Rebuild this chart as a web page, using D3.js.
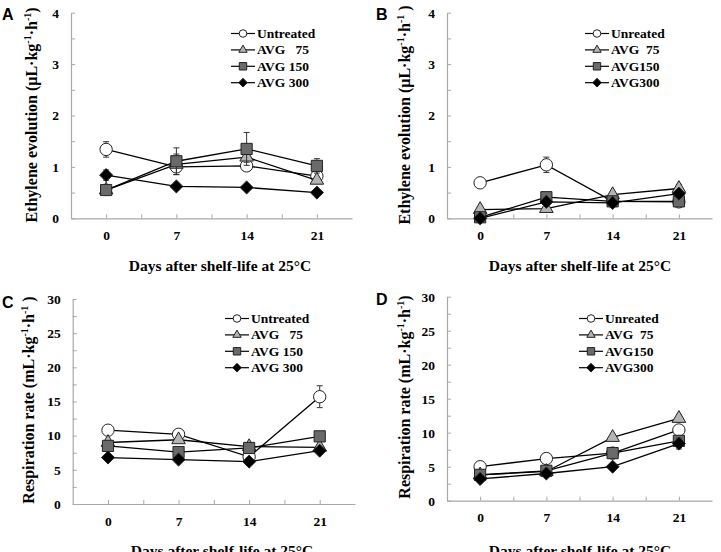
<!DOCTYPE html>
<html>
<head>
<meta charset="utf-8">
<script src="https://cdn.jsdelivr.net/npm/d3@7"></script>
<style>
  body { margin: 0; background: #fff; }
  text { font-family: "Liberation Serif", "Times New Roman", serif; font-weight: bold; fill: #000; }
  .letter { font-family: "Liberation Sans", Arial, sans-serif; font-size: 16px; }
</style>
</head>
<body>
<div id="chart"></div>
<script>
// Data
var days = [0, 7, 14, 21];
var legendAC = ["Untreated", "AVG   75", "AVG 150", "AVG 300"];
var legendBD = ["Unreated", "AVG  75", "AVG150", "AVG300"];

// Panel A - ethylene (uL/kg/h)
var ethyleneA = [
  [1.34, 1.00, 1.02, 0.82],
  [0.55, 1.05, 1.19, 0.74],
  [0.55, 1.11, 1.35, 1.02],
  [0.84, 0.62, 0.60, 0.50]
];
var ethyleneAErr = [
  [0.15, 0, 0, 0.05],
  [0, 0.2, 0.1, 0],
  [0, 0.26, 0.32, 0.14],
  [0.1, 0, 0, 0]
];

// Panel B - ethylene (uL/kg/h)
var ethyleneB = [
  [0.69, 1.04, 0.33, 0.32],
  [0.17, 0.19, 0.46, 0.58],
  [0.02, 0.41, 0.33, 0.33],
  [0.00, 0.32, 0.30, 0.48]
];
var ethyleneBErr = [
  [0, 0.15, 0, 0],
  [0, 0, 0, 0.08],
  [0, 0, 0, 0],
  [0, 0, 0, 0]
];

// Panel C - respiration (mL/kg/h)
var respirationC = [
  [10.8, 10.2, 6.9, 15.7],
  [9.0, 9.4, 8.4, 8.3],
  [8.5, 7.6, 8.2, 9.9],
  [6.8, 6.5, 6.2, 7.8]
];
var respirationCErr = [
  [0, 0, 0, 1.6],
  [0, 0, 0.3, 0.4],
  [0, 0, 0, 0],
  [0, 0, 0, 0]
];

// Panel D - respiration (mL/kg/h)
var respirationD = [
  [5.0, 6.2, 7.0, 10.4],
  [3.8, 4.3, 9.3, 12.1],
  [3.8, 4.4, 7.0, 8.8],
  [3.2, 4.0, 5.0, 8.4]
];
var respirationDErr = [
  [0, 0, 0, 0],
  [0, 0, 0, 0.5],
  [0, 0, 0, 0],
  [0, 0, 0, 0.8]
];

var width = 721;
var height = 552;

var svg = d3.select("#chart")
  .append("svg")
  .attr("width", width)
  .attr("height", height);

// square rotated 45 degrees
var diamondType = {
  draw: function(context, size) {
    var r = Math.sqrt(size / 2);
    context.moveTo(0, -r);
    context.lineTo(r, 0);
    context.lineTo(0, r);
    context.lineTo(-r, 0);
    context.closePath();
  }
};

var markerTypes = [d3.symbolCircle, d3.symbolTriangle, d3.symbolSquare, diamondType];
var markerFills = ["#ffffff", "#b4b4b4", "#6a6a6a", "#000000"];
var markerSizes = [120, 80, 125, 85];
var legendSizes = [45, 30, 55, 38];

function drawPanel(p) {
  var g = svg.append("g");

  var x = d3.scaleLinear().domain([-3.5, 24.5]).range(p.xRange);
  var y = d3.scaleLinear().domain([0, p.yMax]).range(p.yRange);

  // axes, ticks pointing inwards
  var xAxis = d3.axisBottom(x)
    .tickValues([0, 3.5, 7, 10.5, 14, 17.5, 21])
    .tickFormat(function(d) { return d % 7 === 0 ? d : ""; })
    .tickSizeInner(-4)
    .tickSizeOuter(0)
    .tickPadding(12);

  var yAxis = d3.axisLeft(y)
    .tickValues(d3.range(0, p.yMax + p.yMinor / 2, p.yMinor))
    .tickFormat(function(d) { return Math.abs(d / p.yMajor - Math.round(d / p.yMajor)) < 1e-6 ? d : ""; })
    .tickSizeInner(-4)
    .tickSizeOuter(0)
    .tickPadding(12);

  var gx = g.append("g")
    .attr("transform", "translate(0," + p.yRange[0] + ")")
    .call(xAxis);
  var gy = g.append("g")
    .attr("transform", "translate(" + p.xRange[0] + ",0)")
    .call(yAxis);

  [gx, gy].forEach(function(a) {
    a.select(".domain").attr("stroke", "#a8a8a8").attr("stroke-width", 1.2);
    a.selectAll(".tick line").attr("stroke", "#a8a8a8");
    a.selectAll(".tick text")
      .attr("font-family", "Liberation Serif, Times New Roman, serif")
      .attr("font-weight", "bold")
      .attr("font-size", 13.5)
      .attr("fill", "#000");
  });

  // x axis title
  g.append("text")
    .attr("x", p.xTitle[0])
    .attr("y", p.xTitle[1])
    .attr("text-anchor", "middle")
    .attr("font-size", 15.5)
    .text("Days after shelf-life at 25°C");

  // y axis title with superscripts
  var yt = g.append("text")
    .attr("transform", "translate(" + p.yTitle[0] + "," + p.yTitle[1] + ")rotate(-90)")
    .attr("text-anchor", "middle")
    .attr("font-size", 16);
  yt.append("tspan").text(p.yLabel + " (" + p.unit + "·kg");
  yt.append("tspan").attr("font-size", 10).attr("dy", -6).text("-1");
  yt.append("tspan").attr("dy", 6).text("·h");
  yt.append("tspan").attr("font-size", 10).attr("dy", -6).text("-1");
  yt.append("tspan").attr("dy", 6).style("white-space", "pre").text(p.closeSpace ? " )" : ")");

  // panel letter
  g.append("text")
    .attr("class", "letter")
    .attr("x", p.letterPos[0])
    .attr("y", p.letterPos[1])
    .text(p.letter);

  var line = d3.line()
    .x(function(d, i) { return x(days[i]); })
    .y(function(d) { return y(d); });

  p.values.forEach(function(series, s) {
    var sg = g.append("g");

    // error bars
    series.forEach(function(v, i) {
      var e = p.errors[s][i];
      if (e > 0) {
        var cx = x(days[i]);
        sg.append("line")
          .attr("x1", cx).attr("x2", cx)
          .attr("y1", y(v - e)).attr("y2", y(v + e))
          .attr("stroke", "#333").attr("stroke-width", 1);
        [v - e, v + e].forEach(function(w) {
          sg.append("line")
            .attr("x1", cx - 3).attr("x2", cx + 3)
            .attr("y1", y(w)).attr("y2", y(w))
            .attr("stroke", "#333").attr("stroke-width", 1);
        });
      }
    });

    sg.append("path")
      .datum(series)
      .attr("d", line)
      .attr("fill", "none")
      .attr("stroke", "#000")
      .attr("stroke-width", 1.3);

    sg.selectAll("path.marker")
      .data(series)
      .enter()
      .append("path")
      .attr("class", "marker")
      .attr("transform", function(d, i) { return "translate(" + x(days[i]) + "," + y(d) + ")"; })
      .attr("d", d3.symbol().type(markerTypes[s]).size(markerSizes[s]))
      .attr("fill", markerFills[s])
      .attr("stroke", "#222")
      .attr("stroke-width", 1);
  });

  // legend
  p.legend.forEach(function(name, s) {
    var ly = p.legendPos[1] + s * 16.4;
    var lx = p.legendPos[0];
    g.append("line")
      .attr("x1", lx).attr("x2", lx + 24)
      .attr("y1", ly).attr("y2", ly)
      .attr("stroke", "#000").attr("stroke-width", 1.2);
    g.append("path")
      .attr("transform", "translate(" + (lx + 12) + "," + ly + ")")
      .attr("d", d3.symbol().type(markerTypes[s]).size(legendSizes[s]))
      .attr("fill", markerFills[s])
      .attr("stroke", "#222")
      .attr("stroke-width", 1);
    g.append("text")
      .attr("x", lx + 26)
      .attr("y", ly + 4.5)
      .attr("font-size", 13.5)
      .style("white-space", "pre")
      .text(name);
  });
}

drawPanel({
  letter: "A", letterPos: [2, 20],
  xRange: [71, 352], yRange: [218.3, 12.7], yMax: 4, yMajor: 1, yMinor: 0.5,
  values: ethyleneA, errors: ethyleneAErr, legend: legendAC, legendPos: [231, 33.5],
  xTitle: [220, 271], yTitle: [37, 115], yLabel: "Ethylene evolution", unit: "μL", closeSpace: false
});

drawPanel({
  letter: "B", letterPos: [376, 20],
  xRange: [447, 712], yRange: [218.3, 12.7], yMax: 4, yMajor: 1, yMinor: 0.5,
  values: ethyleneB, errors: ethyleneBErr, legend: legendBD, legendPos: [585, 33.5],
  xTitle: [580, 271], yTitle: [410, 115], yLabel: "Ethylene evolution", unit: "μL", closeSpace: true
});

drawPanel({
  letter: "C", letterPos: [2, 308],
  xRange: [72.7, 355], yRange: [504, 299], yMax: 30, yMajor: 5, yMinor: 2.5,
  values: respirationC, errors: respirationCErr, legend: legendAC, legendPos: [225, 318.5],
  xTitle: [222, 556], yTitle: [34, 400], yLabel: "Respiration rate", unit: "mL", closeSpace: true
});

drawPanel({
  letter: "D", letterPos: [376, 305],
  xRange: [447, 712], yRange: [500.7, 296.7], yMax: 30, yMajor: 5, yMinor: 2.5,
  values: respirationD, errors: respirationDErr, legend: legendBD, legendPos: [579, 318.5],
  xTitle: [580, 556], yTitle: [410, 397], yLabel: "Respiration rate", unit: "mL", closeSpace: false
});
</script>
</body>
</html>
